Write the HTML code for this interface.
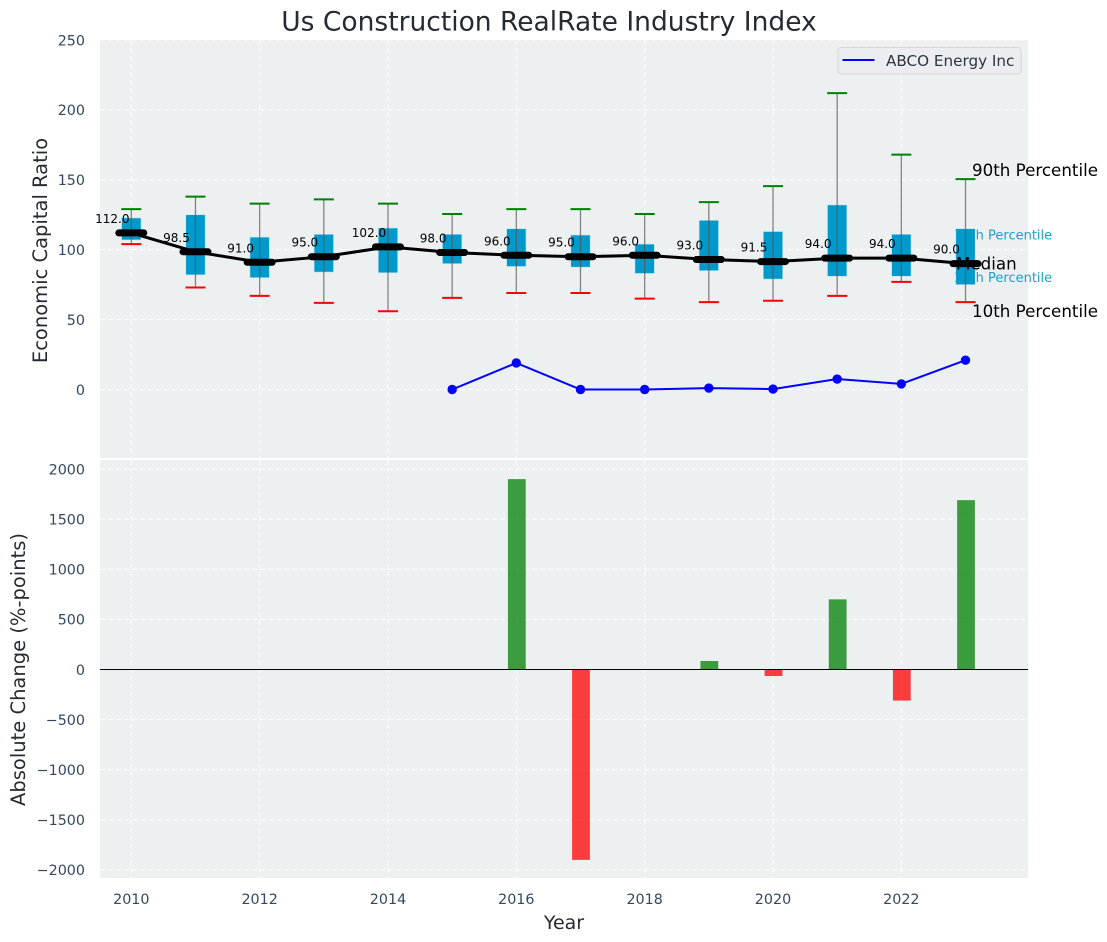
<!DOCTYPE html>
<html lang="en">
<head>
<meta charset="utf-8">
<title>Us Construction RealRate Industry Index</title>
<style>
html,body{margin:0;padding:0;background:#fff;width:1107px;height:942px;overflow:hidden}
svg{display:block;font-family:"DejaVu Sans","Liberation Sans",sans-serif}
</style>
</head>
<body>
<svg id="chart" width="1107" height="942" viewBox="0 0 1107 942" xmlns="http://www.w3.org/2000/svg"></svg>
<script>
const years = [2010,2011,2012,2013,2014,2015,2016,2017,2018,2019,2020,2021,2022,2023];
const medians = [112,98.5,91,95,102,98,96,95,96,93,91.5,94,94,90];
const p75 = [122.7,125,109,111,115.5,111,115,110.5,104,121,113,132,111,115];
const p25 = [107,82,80,84,83.5,90,88,87.5,83,85,79,81,81,75];
const p90 = [129,138,133,136,133,125.5,129,129,125.5,134,145.5,212,168,150.5];
const p10 = [104,73,67,62,56,65.5,69,69,65,62.5,63.5,67,77,62.5];
const companyYears = [2015,2016,2017,2018,2019,2020,2021,2022,2023];
const companyValues = [0,19,0,0,1,0.3,7.5,4,21];
const changeYears = [2016,2017,2019,2020,2021,2022,2023];
const changeValues = [1900,-1900,85,-65,700,-310,1690];
const xTicks = [2010,2012,2014,2016,2018,2020,2022];
const topTicks = [0,50,100,150,200,250];
const bottomTicks = [-2000,-1500,-1000,-500,0,500,1000,1500,2000];

const svg = document.getElementById('chart');
const NS = 'http://www.w3.org/2000/svg';
function X(v){ return 131.3 + (v - 2010) * 64.17; }
function YT(v){ return 389.5 - v * 1.398; }
function YB(v){ return 669.5 - v * 0.1002; }
function make(tag, attrs, text){
  const el = document.createElementNS(NS, tag);
  for (const k in attrs) el.setAttribute(k, attrs[k]);
  if (text !== undefined) el.textContent = text;
  svg.appendChild(el);
  return el;
}
function fmt(v){ return v < 0 ? '\u2212' + Math.abs(v) : String(v); }

let el;
el = make('rect', {x:100, y:40, width:928, height:418, fill:'#ecf0f1'});


el = make('rect', {x:100, y:460, width:928, height:418, fill:'#ecf0f1'});



const gridStyle = {stroke:'#ffffff', 'stroke-width':1.1, 'stroke-dasharray':'5 3', fill:'none', opacity:0.85};
xTicks.forEach(function(t){
  el = make('line', Object.assign({x1:X(t), x2:X(t), y1:40, y2:458}, gridStyle));
  
  
  el = make('line', Object.assign({x1:X(t), x2:X(t), y1:460, y2:878}, gridStyle));
  
  
  el = make('text', {x:X(t), y:904, 'text-anchor':'middle', 'font-size':14.3, fill:'#34495e'}, String(t));
  
  
});
topTicks.forEach(function(t){
  el = make('line', Object.assign({x1:100, x2:1028, y1:YT(t), y2:YT(t)}, gridStyle));
  
  
  el = make('text', {x:85, y:YT(t) + 5.3, 'text-anchor':'end', 'font-size':14.3, fill:'#34495e'}, fmt(t));
  
  
});
bottomTicks.forEach(function(t){
  el = make('line', Object.assign({x1:100, x2:1028, y1:YB(t), y2:YB(t)}, gridStyle));
  
  
  el = make('text', {x:85, y:YB(t) + 5.3, 'text-anchor':'end', 'font-size':14.3, fill:'#34495e'}, fmt(t));
  
  
});

const last = years.length - 1;
const lastX = X(years[last]);
el = make('text', {x:lastX - 11.5, y:YT(p75[last]) + 11, 'font-size':13, fill:'#0099cc', opacity:0.9}, '75th Percentile');


el = make('text', {x:lastX - 11.5, y:YT(p25[last]) - 2.5, 'font-size':13, fill:'#0099cc', opacity:0.9}, '25th Percentile');



years.forEach(function(y, i){
  el = make('rect', {x:X(y) - 9.7, y:YT(p75[i]), width:19.4, height:YT(p25[i]) - YT(p75[i]), fill:'#0099cc', stroke:'#bfe3ef', 'stroke-width':0.6});
  
  
  el = make('line', {x1:X(y), x2:X(y), y1:YT(p90[i]), y2:YT(p10[i]), stroke:'#555', 'stroke-width':1.3, opacity:0.7});
  
  
  el = make('line', {x1:X(y) - 10, x2:X(y) + 10, y1:YT(p90[i]), y2:YT(p90[i]), stroke:'#008000', 'stroke-width':2});
  
  
  el = make('line', {x1:X(y) - 10, x2:X(y) + 10, y1:YT(p10[i]), y2:YT(p10[i]), stroke:'#ff0000', 'stroke-width':2});
  
  
});

el = make('text', {x:lastX + 6.5, y:YT(p90[last]) - 3, 'font-size':16.7, fill:'#000'}, '90th Percentile');


el = make('text', {x:lastX + 6.5, y:YT(p10[last]) + 15, 'font-size':16.7, fill:'#000'}, '10th Percentile');


el = make('text', {x:lastX - 9.5, y:YT(medians[last]) + 6, 'font-size':16.7, fill:'#000'}, 'Median');



el = make('polyline', {points:years.map(function(y, i){ return X(y) + ',' + YT(medians[i]); }).join(' '), fill:'none', stroke:'#000', 'stroke-width':3});


years.forEach(function(y, i){
  el = make('line', {x1:X(y) - 12.5, x2:X(y) + 12.5, y1:YT(medians[i]), y2:YT(medians[i]), stroke:'#000', 'stroke-width':7, 'stroke-linecap':'round'});
  
  
  el = make('text', {x:X(y) - 19, y:YT(medians[i]) - 10, 'text-anchor':'middle', 'font-size':12, fill:'#000'}, medians[i].toFixed(1));
  
  
});

el = make('polyline', {points:companyYears.map(function(y, i){ return X(y) + ',' + YT(companyValues[i]); }).join(' '), fill:'none', stroke:'#0000ff', 'stroke-width':2});


companyYears.forEach(function(y, i){
  el = make('circle', {cx:X(y), cy:YT(companyValues[i]), r:4.7, fill:'#0000ff'});
  
  
});

changeYears.forEach(function(y, i){
  const v = changeValues[i];
  const top = Math.min(YB(v), YB(0));
  el = make('rect', {x:X(y) - 8.4, y:top, width:17.8, height:Math.abs(YB(v) - YB(0)), fill:v >= 0 ? '#008000' : '#ff0000', opacity:0.75});
  
  
});
el = make('line', {x1:100, x2:1028, y1:YB(0), y2:YB(0), stroke:'#000', 'stroke-width':1.1});



el = make('rect', {x:838, y:47.5, width:183, height:26.5, rx:3, fill:'#ebedf1', stroke:'#d5d8dc', 'stroke-width':1});


el = make('line', {x1:842.5, x2:874.5, y1:60, y2:60, stroke:'#0000ff', 'stroke-width':2});


el = make('text', {x:886, y:66, 'font-size':15.2, fill:'#2c3440'}, 'ABCO Energy Inc');



el = make('text', {x:549, y:30.5, 'text-anchor':'middle', 'font-size':26.5, fill:'#262b33'}, 'Us Construction RealRate Industry Index');


el = make('text', {x:564, y:929, 'text-anchor':'middle', 'font-size':19, fill:'#262b33'}, 'Year');


el = make('text', {x:0, y:0, transform:'translate(47,250.5) rotate(-90)', 'text-anchor':'middle', 'font-size':19.5, fill:'#262b33'}, 'Economic Capital Ratio');


el = make('text', {x:0, y:0, transform:'translate(25,669.5) rotate(-90)', 'text-anchor':'middle', 'font-size':19.5, fill:'#262b33'}, 'Absolute Change (%-points)');


</script>
</body>
</html>
